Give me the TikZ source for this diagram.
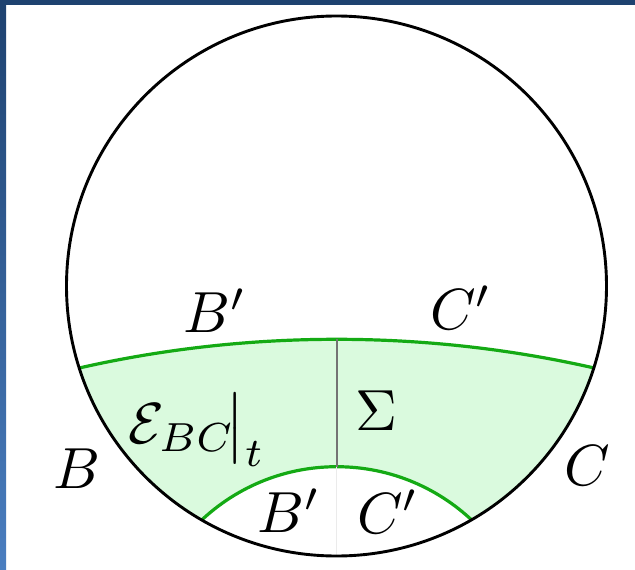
\documentclass[tikz,border=0pt]{standalone}
\usepackage{amsmath}
\definecolor{framblue}{RGB}{30,66,112}
\definecolor{framblue2}{RGB}{74,126,192}
\definecolor{regiongreen}{RGB}{218,250,222}
\definecolor{arcgreen}{RGB}{20,170,20}
\definecolor{sepgray}{RGB}{115,115,115}
\tikzset{
  lbl/.style={inner sep=0pt, scale=5.8},
  arcline/.style={draw=arcgreen, line width=3.2pt},
  rim/.style={draw=black, line width=2.9pt},
}
\begin{document}
\begin{tikzpicture}[x=1pt,y=-1pt]
\useasboundingbox (0,0) rectangle (635,570);
\fill[white] (0,0) rectangle (635,570);
% slide frame
\fill[framblue] (0,0) rectangle (635,5);
\shade[top color=framblue, bottom color=framblue2] (0,5) rectangle (6,570);
% geometry
\coordinate (O) at (336.5,286);
\coordinate (Obig) at (336.7,1498.8);
\coordinate (Osmall) at (336.7,664.2);
\coordinate (topmid) at (336.7,339.3);
\coordinate (inmid) at (336.7,466.7);
\coordinate (bot) at (336.7,556);
% shaded region
\begin{scope}
  \clip (O) circle (270);
  \begin{scope}
    \clip (Obig) circle (1159.5);
    \fill[regiongreen] (O) circle (270);
  \end{scope}
  \fill[white] (Osmall) circle (197.5);
  \draw[arcline] (Obig) circle (1159.5);
  \draw[arcline] (Osmall) circle (197.5);
\end{scope}
% separator
\draw[sepgray, line width=1.6pt] (topmid) -- (inmid);
\draw[black!8, line width=0.8pt] (inmid) -- (bot);
% boundary circle
\node[rim, circle, minimum size=540pt, inner sep=0pt] (disk) at (O) {};
% labels
\node[lbl] (Bpt) at (215,311) {$B'$};
\node[lbl] (Cpt) at (461,308) {$C'$};
\node[lbl] (E) at (197,430) {$\mathcal{E}_{BC}\!\big|_t$};
\node[lbl] (Sig) at (376,411) {$\Sigma$};
\node[lbl] (B) at (77,469) {$B$};
\node[lbl] (C) at (587,466) {$C$};
\node[lbl] (Bpb) at (289,511) {$B'$};
\node[lbl] (Cpb) at (388,512) {$C'$};
\end{tikzpicture}
\end{document}
